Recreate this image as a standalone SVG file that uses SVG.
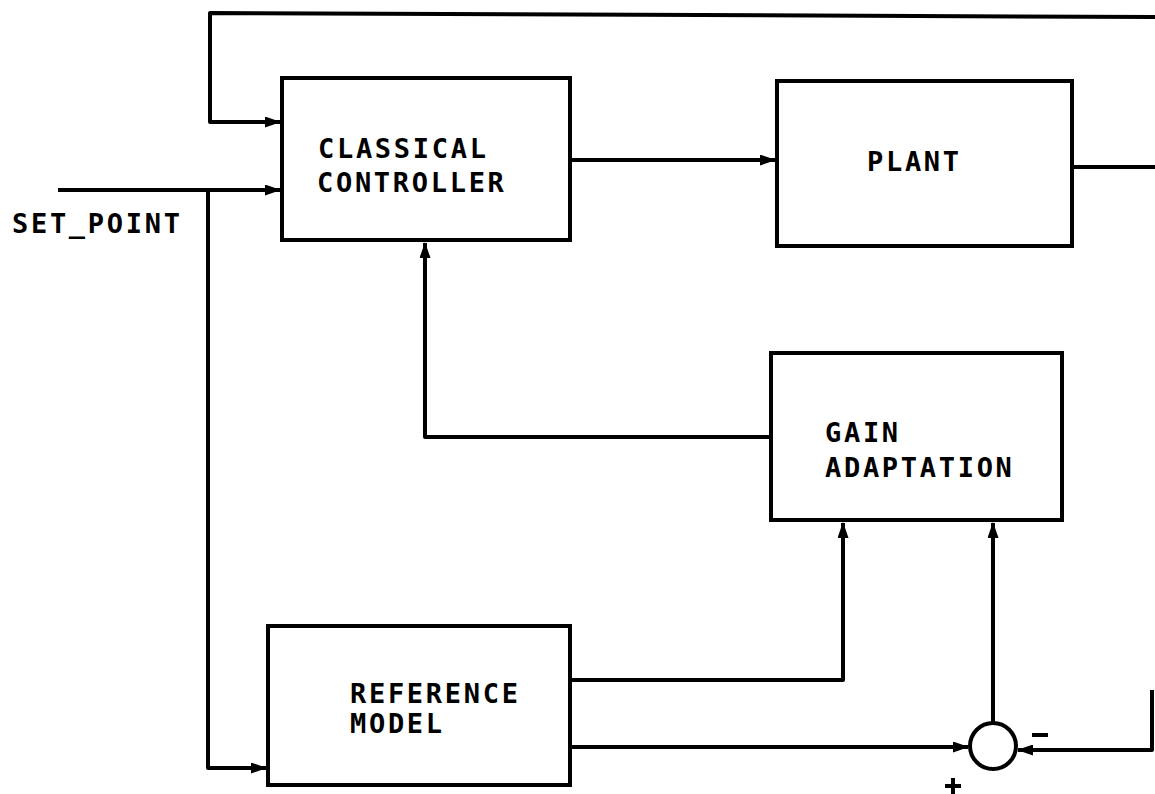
<svg xmlns="http://www.w3.org/2000/svg" width="1155" height="794" viewBox="0 0 1155 794">
<style>
.box{fill:#fff;stroke:#000;stroke-width:4}
.ln{fill:none;stroke:#000;stroke-width:4;stroke-linejoin:round}
.t{font-family:"DejaVu Sans Mono","Liberation Mono",monospace;font-weight:bold;font-size:27px;letter-spacing:2.7px;fill:#000}
</style>
<defs>
<marker id="ah" markerWidth="16" markerHeight="11" refX="15" refY="5.5" orient="auto" markerUnits="userSpaceOnUse">
<path d="M0,0 L16,5.5 L0,11 Z" fill="#000"/>
</marker>
</defs>
<rect width="1155" height="794" fill="#fff"/>
<g id="connectors">
<path class="ln" d="M1155 17 L210 13 L210 122 L280 122" marker-end="url(#ah)"/>
<path class="ln" d="M58 190 L280 190" marker-end="url(#ah)"/>
<path class="ln" d="M208 190 L208 768 L266 768" marker-end="url(#ah)"/>
<path class="ln" d="M570 160 L775 160" marker-end="url(#ah)"/>
<path class="ln" d="M1072 167 L1155 167"/>
<path class="ln" d="M770 437 L425 437 L425 243" marker-end="url(#ah)"/>
<path class="ln" d="M570 680 L843 680 L843 523" marker-end="url(#ah)"/>
<path class="ln" d="M570 747 L968 747" marker-end="url(#ah)"/>
<path class="ln" d="M993 722 L993 523" marker-end="url(#ah)"/>
<path class="ln" d="M1152 690 L1152 750 L1018 750" marker-end="url(#ah)"/>
</g>
<g id="controller">
<rect class="box" x="282" y="78" width="288" height="162"/>
<text class="t" x="318" y="158">CLASSICAL</text>
<text class="t" x="317" y="192">CONTROLLER</text>
</g>
<g id="plant">
<rect class="box" x="777" y="81" width="295" height="165"/>
<text class="t" x="867" y="171">PLANT</text>
</g>
<g id="gain">
<rect class="box" x="771" y="353" width="291" height="167"/>
<text class="t" x="825" y="442">GAIN</text>
<text class="t" x="825" y="477">ADAPTATION</text>
</g>
<g id="reference">
<rect class="box" x="268" y="626" width="302" height="159"/>
<text class="t" x="350" y="703">REFERENCE</text>
<text class="t" x="350" y="733">MODEL</text>
</g>
<g id="sum">
<circle cx="993" cy="746" r="23" fill="#fff" stroke="#000" stroke-width="4"/>
<path d="M1032 735 L1048 735" stroke="#000" stroke-width="4"/>
<path d="M945 786 L961 786 M953 778 L953 794" stroke="#000" stroke-width="4"/>
</g>
<g id="setpoint">
<text class="t" x="12" y="233">SET_POINT</text>
</g>
</svg>
